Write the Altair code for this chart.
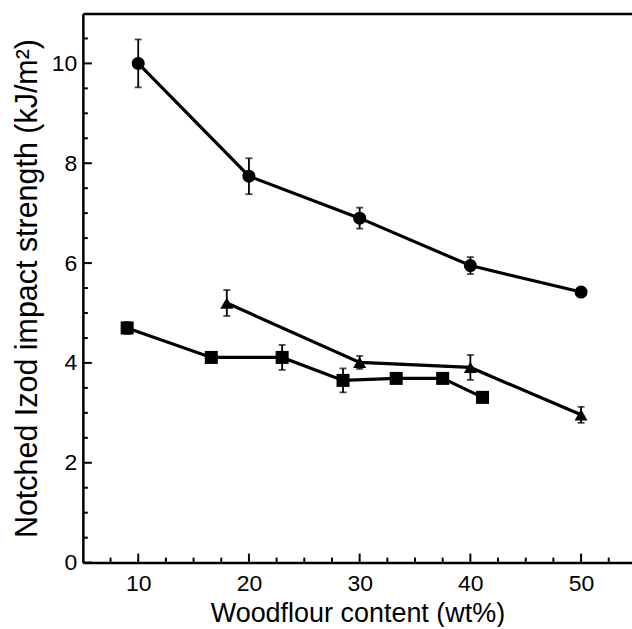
import altair as alt
import pandas as pd

# ---- data ----
circle_x = [10, 20, 30, 40, 50]
circle_y = [10.0, 7.74, 6.90, 5.95, 5.42]
circle_err = [0.48, 0.36, 0.21, 0.17, 0.0]

triangle_x = [18, 30, 40, 50]
triangle_y = [5.20, 4.01, 3.91, 2.96]
triangle_err = [0.26, 0.13, 0.25, 0.16]

square_x = [9.0, 16.6, 23.0, 28.5, 33.3, 37.5, 41.1]
square_y = [4.70, 4.11, 4.11, 3.65, 3.69, 3.69, 3.31]
square_err = [0.12, 0.0, 0.25, 0.24, 0.0, 0.0, 0.0]

series_names = ["circle", "triangle", "square"]
series_shapes = ["circle", "triangle-up", "square"]

x_major = [10, 20, 30, 40, 50]
x_minor = [7.5, 12.5, 15, 17.5, 22.5, 25, 27.5, 32.5, 35, 37.5, 42.5, 45, 47.5, 52.5]
y_major = [0, 2, 4, 6, 8, 10]
y_minor = [0.5, 1, 1.5, 2.5, 3, 3.5, 4.5, 5, 5.5, 6.5, 7, 7.5, 8.5, 9, 9.5, 10.5]

rows = []
for name, xs_, ys_, es_ in [("circle", circle_x, circle_y, circle_err),
                            ("triangle", triangle_x, triangle_y, triangle_err),
                            ("square", square_x, square_y, square_err)]:
    for a, b, e in zip(xs_, ys_, es_):
        rows.append({"series": name, "x": a, "y": b, "err": e, "lo": b - e, "hi": b + e})
df = pd.DataFrame(rows)

FONT = "Liberation Sans"
W = 550
H = 550
MAJOR_LEN = 9
MINOR_LEN = 5
xsc = alt.Scale(domain=[5, 54.6], nice=False, zero=False)
ysc = alt.Scale(domain=[0, 11], nice=False, zero=True)

common = dict(grid=False, tickColor="black", domainColor="black", labelColor="black",
              titleColor="black", labelFont=FONT, titleFont=FONT, zindex=1)

# labels and titles (ticks are drawn inward by the rule layers below)
ax_x_main = alt.Axis(orient="bottom", values=x_major, ticks=False, tickSize=0, domain=False,
                     labelFontSize=23, labelPadding=10, labelFlush=False,
                     title="Woodflour content (wt%)", titleFontSize=27, titleFontWeight="normal",
                     titlePadding=5, **common)
ax_y_main = alt.Axis(orient="left", values=y_major, ticks=False, tickSize=0, domain=False,
                     labelFontSize=23, labelPadding=6, labelFlush=False,
                     title="Notched Izod impact strength (kJ/m²)", titleFontSize=30.5,
                     titleFontWeight="normal", titlePadding=9, **common)
# frame lines: top edge, left edge (right axis moved to the left edge), bottom edge (top axis moved down)
ax_top_frame = alt.Axis(orient="top", ticks=False, labels=False, domain=True, domainWidth=2.5,
                        title=None, **common)
ax_left_frame = alt.Axis(orient="right", offset=-W, ticks=False, labels=False, domain=True,
                         domainWidth=2.5, title=None, **common)
ax_bottom_frame = alt.Axis(orient="top", offset=-H, ticks=False, labels=False, domain=True,
                           domainWidth=2.5, title=None, **common)

base = alt.Chart(df)

lines = base.mark_line(color="black", strokeWidth=3.2).encode(
    x=alt.X("x:Q", scale=xsc, axis=ax_x_main),
    y=alt.Y("y:Q", scale=ysc, axis=ax_y_main),
    detail="series:N",
)

points = base.mark_point(filled=True, color="black", opacity=1, size=170).encode(
    x=alt.X("x:Q", scale=xsc, axis=None),
    y=alt.Y("y:Q", scale=ysc, axis=None),
    shape=alt.Shape("series:N", scale=alt.Scale(domain=series_names, range=series_shapes), legend=None),
)

bars = base.transform_filter("datum.err > 0").mark_rule(color="black", strokeWidth=1.8).encode(
    x=alt.X("x:Q", scale=xsc, axis=ax_top_frame),
    y=alt.Y("lo:Q", scale=ysc, axis=ax_left_frame),
    y2="hi:Q",
)

caps = base.transform_filter("datum.err > 0").transform_fold(["lo", "hi"], as_=["end", "val"]).mark_tick(
    color="black", orient="horizontal", size=7, thickness=1.8
).encode(
    x=alt.X("x:Q", scale=xsc, axis=ax_bottom_frame),
    y=alt.Y("val:Q", scale=ysc, axis=None),
)

# inward axis ticks, placed through the scales from the tick-value lists
xt_major = alt.Chart(pd.DataFrame({"v": x_major})).mark_rule(color="black", strokeWidth=2).encode(
    x=alt.X("v:Q", scale=xsc, axis=None), y=alt.value(H), y2=alt.value(H - MAJOR_LEN))
xt_minor = alt.Chart(pd.DataFrame({"v": x_minor})).mark_rule(color="black", strokeWidth=2).encode(
    x=alt.X("v:Q", scale=xsc, axis=None), y=alt.value(H), y2=alt.value(H - MINOR_LEN))
yt_major = alt.Chart(pd.DataFrame({"v": y_major})).mark_rule(color="black", strokeWidth=2).encode(
    y=alt.Y("v:Q", scale=ysc, axis=None), x=alt.value(0), x2=alt.value(MAJOR_LEN))
yt_minor = alt.Chart(pd.DataFrame({"v": y_minor})).mark_rule(color="black", strokeWidth=2).encode(
    y=alt.Y("v:Q", scale=ysc, axis=None), x=alt.value(0), x2=alt.value(MINOR_LEN))

chart = alt.layer(lines, bars, caps, points, xt_major, xt_minor, yt_major, yt_minor).resolve_axis(
    x="independent", y="independent"
).properties(
    width=W, height=H, padding={"left": 12, "top": 13, "right": 0, "bottom": 0}, background="white"
).configure_view(stroke=None)

chart.save("out.html", embed_options={"renderer": "svg", "actions": False})
